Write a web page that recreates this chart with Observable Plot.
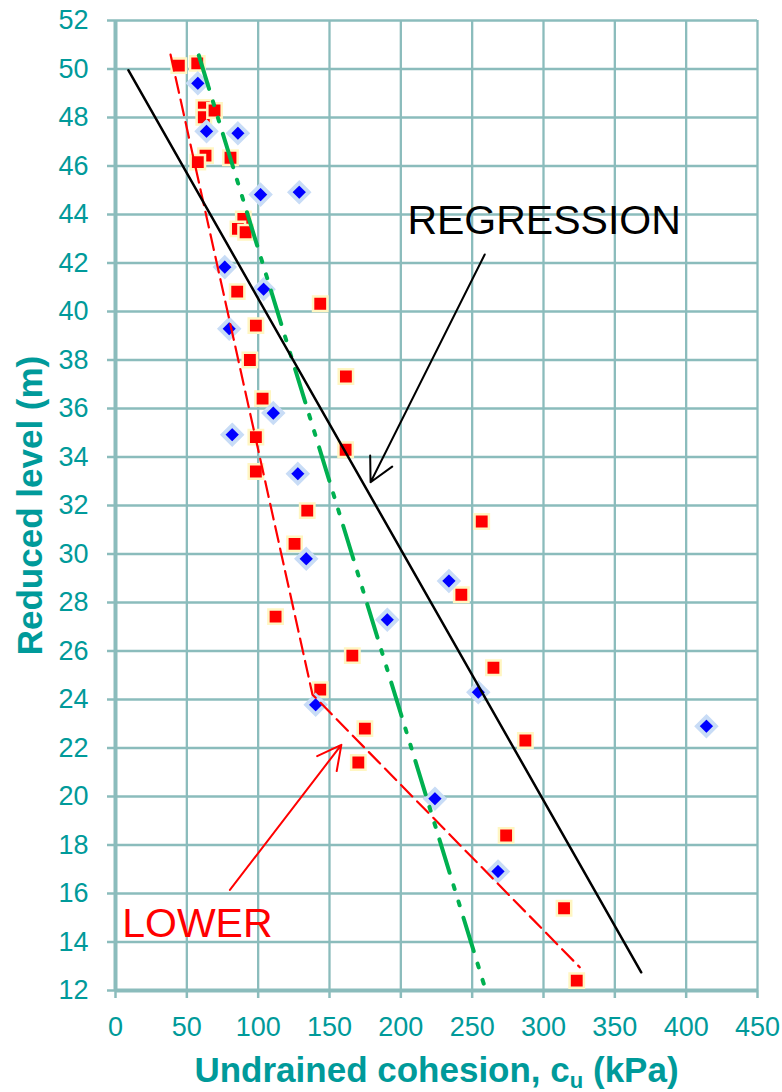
<!DOCTYPE html>
<html>
<head>
<meta charset="utf-8">
<script src="https://cdn.jsdelivr.net/npm/d3@7"></script>
<script src="https://cdn.jsdelivr.net/npm/@observablehq/plot@0.6"></script>
<style>
  html, body { margin: 0; padding: 0; background: #ffffff; }
  #chart svg { display: block; }
</style>
</head>
<body>
<div id="chart"></div>
<script>
// Undrained cohesion (kPa) against reduced level (m)
// Red squares: first test series
const redCu = [44.4, 57.3, 61.9, 61.9, 69.4, 63.1, 57.7, 80.6, 89.6, 85.8, 91.2, 85.3,
  143.5, 98.4, 94.2, 161.5, 103.1, 98.4, 161.3, 98.4, 134.4, 256.7, 125.5, 112.2,
  242.4, 166.0, 264.9, 143.5, 174.8, 287.3, 170.2, 273.8, 314.4, 323.3];
const redLevel = [50.14, 50.23, 48.42, 48.01, 48.29, 46.43, 46.16, 46.34, 43.82, 43.41, 43.27, 40.82,
  40.32, 39.42, 38.0, 37.32, 36.41, 34.82, 34.30, 33.40, 31.79, 31.34, 30.42, 27.42,
  28.32, 25.81, 25.31, 24.41, 22.80, 22.31, 21.40, 18.39, 15.39, 12.41];

// Blue diamonds: second test series
const blueCu = [57.7, 63.8, 85.8, 101.7, 128.8, 76.6, 103.8, 79.7, 110.6, 81.8, 127.8,
  133.7, 233.7, 190.5, 254.3, 140.3, 414.2, 223.9, 268.1];
const blueLevel = [49.41, 47.43, 47.35, 44.82, 44.92, 41.83, 40.92, 39.29, 35.81, 34.92, 33.31,
  29.80, 28.89, 27.29, 24.30, 23.78, 22.90, 19.91, 16.91];

// Fitted lines
const regressionCu = [9, 368.5];
const regressionLevel = [49.95, 12.75];
const lowerCu = [38.6, 138.1, 325.4];
const lowerLevel = [50.59, 24.2, 12.96];
const designCu = [58.4, 258.3];
const designLevel = [50.56, 12.24];

// Callouts
const labelText = ["REGRESSION", "LOWER"];
const labelCu = [204.6, 4.7];
const labelLevel = [43.74, 14.74];
const arrowFromCu = [258.8, 80.2];
const arrowFromLevel = [42.35, 16.15];
const arrowToCu = [178.8, 158.3];
const arrowToLevel = [32.96, 22.13];

// Axis ticks
const xTicks = [0, 50, 100, 150, 200, 250, 300, 350, 400, 450];
const yTicks = d3.range(12, 53, 2);

const teal = "#009a9a";
const gridColor = "#8bbcbc";
const calloutColor = ["#000000", "#ff0000"];

const red = redCu.map((x, i) => ({x, y: redLevel[i]}));
const blue = blueCu.map((x, i) => ({x, y: blueLevel[i]}));
const pts = (xs, ys) => xs.map((x, i) => ({x, y: ys[i]}));
const callouts = labelText.map((t, i) => ({
  text: t, x: labelCu[i], y: labelLevel[i],
  x1: arrowFromCu[i], y1: arrowFromLevel[i], x2: arrowToCu[i], y2: arrowToLevel[i],
  color: calloutColor[i]
}));

const chart = Plot.plot({
  width: 782,
  height: 1092,
  marginTop: 20,
  marginRight: 25,
  marginBottom: 102,
  marginLeft: 115,
  style: {fontFamily: "'Liberation Sans', Arial, sans-serif", background: "#ffffff", color: teal},
  x: {domain: [0, 450]},
  y: {domain: [12, 52]},
  marks: [
    Plot.gridX(xTicks, {stroke: gridColor, strokeOpacity: 1, strokeWidth: 2.3}),
    Plot.gridY(yTicks, {stroke: gridColor, strokeOpacity: 1, strokeWidth: 2.3}),
    Plot.ruleX([0], {stroke: gridColor, strokeWidth: 4}),
    Plot.ruleY([12], {stroke: gridColor, strokeWidth: 4}),
    Plot.axisX(xTicks, {tickSize: 8, tickPadding: 18, fontSize: 27, stroke: gridColor, strokeWidth: 2.5,
      fill: teal, label: null, tickFormat: d => String(d)}),
    Plot.axisY(yTicks, {tickSize: 8, tickPadding: 19, fontSize: 27, stroke: gridColor, strokeWidth: 2.5,
      fill: teal, label: null, tickFormat: d => String(d)}),
    Plot.dot(red, {x: "x", y: "y", symbol: "square", r: 8.1, fill: "#ff0000", stroke: "#fff6c2", strokeWidth: 2.5}),
    Plot.dot(blue, {x: "x", y: "y", symbol: "diamond2", r: 8.5, fill: "#0000ff", stroke: "#c8dcf6", strokeWidth: 4}),
    Plot.line(pts(lowerCu, lowerLevel), {x: "x", y: "y", stroke: "#ff0000", strokeWidth: 2.2, strokeDasharray: "16,7"}),
    Plot.line(pts(designCu, designLevel), {x: "x", y: "y", stroke: "#00b050", strokeWidth: 4, strokeDasharray: "35,13,4,13,4,13"}),
    Plot.line(pts(regressionCu, regressionLevel), {x: "x", y: "y", stroke: "#000000", strokeWidth: 2.5}),
    Plot.arrow(callouts, {x1: "x1", y1: "y1", x2: "x2", y2: "y2", stroke: "color", strokeWidth: 2, headLength: 20, headAngle: 55}),
    Plot.text(callouts, {x: "x", y: "y", text: "text", fill: "color", fontSize: 41, textAnchor: "start", lineAnchor: "middle"}),
    Plot.text(["Reduced level (m)"], {frameAnchor: "left", rotate: -90, dx: -84.5, text: d => d,
      fontSize: 35, fontWeight: "bold", fill: teal, textAnchor: "middle", lineAnchor: "middle"}),
    Plot.text(["Undrained cohesion, cu (kPa)"], {frameAnchor: "bottom", dy: 80.5, text: d => d,
      fontSize: 35, fontWeight: "bold", fill: teal, textAnchor: "middle", lineAnchor: "middle"})
  ]
});

// Set the "u" of c_u as a subscript
d3.select(chart).selectAll("text").filter(function() {
  return this.textContent === "Undrained cohesion, cu (kPa)";
}).each(function() {
  const t = d3.select(this);
  t.text(null);
  t.append("tspan").text("Undrained cohesion, c");
  t.append("tspan").attr("font-size", 22).attr("dy", 6).text("u");
  t.append("tspan").attr("dy", -6).text(" (kPa)");
});

document.getElementById("chart").append(chart);
</script>
</body>
</html>
